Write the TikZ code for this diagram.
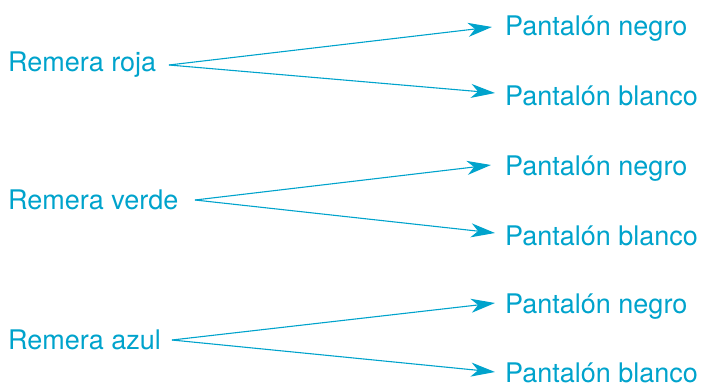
\documentclass[tikz,border=0pt]{standalone}
\usepackage{fontspec}
\setmainfont{TeX Gyre Heros}
\usetikzlibrary{arrows.meta}
\definecolor{cy}{RGB}{0,163,204}
\tikzset{
  lbl/.style={anchor=base west, inner sep=0pt, text=cy, font=\fontsize{27}{31}\selectfont},
  conn/.style={draw=cy, line width=1.1pt, -{Stealth[length=24pt,width=14pt,inset=7pt]}},
}
\begin{document}
\begin{tikzpicture}[x=1pt,y=-1pt]
\useasboundingbox (0,0) rectangle (702,386);
% left labels
\node[lbl] (r1) at (8,71) {Remera roja};
\node[lbl] (r2) at (8,209) {Remera verde};
\node[lbl] (r3) at (8,349) {Remera azul};
% right labels
\node[lbl] (p1) at (505,35) {Pantalón negro};
\node[lbl] (p2) at (505,105) {Pantalón blanco};
\node[lbl] (p3) at (505,175) {Pantalón negro};
\node[lbl] (p4) at (505,245) {Pantalón blanco};
\node[lbl] (p5) at (505,313) {Pantalón negro};
\node[lbl] (p6) at (505,382) {Pantalón blanco};
% start points
\coordinate (o1) at (169,65);
\coordinate (o2) at (195,200);
\coordinate (o3) at (172,340);
% tips
\coordinate (t1) at (492,27);
\coordinate (t2) at (495,93);
\coordinate (t3) at (491,165);
\coordinate (t4) at (495,233);
\coordinate (t5) at (495,303);
\coordinate (t6) at (495,372);
\draw[conn] (o1) -- (t1);
\draw[conn] (o1) -- (t2);
\draw[conn] (o2) -- (t3);
\draw[conn] (o2) -- (t4);
\draw[conn] (o3) -- (t5);
\draw[conn] (o3) -- (t6);
\end{tikzpicture}
\end{document}
